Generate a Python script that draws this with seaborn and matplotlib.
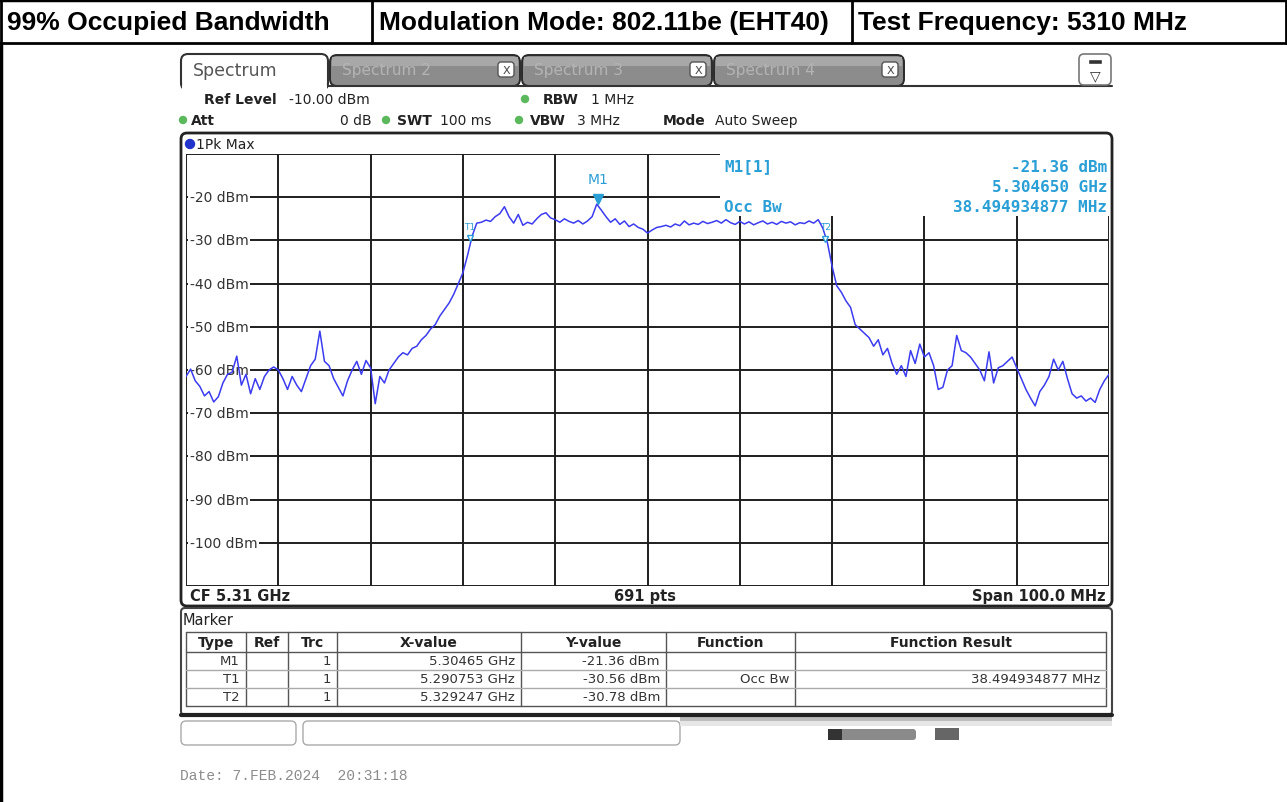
import matplotlib
matplotlib.use("Agg")
import matplotlib.pyplot as plt
import seaborn as sns
import numpy as np
import pandas as pd
from matplotlib.patches import FancyBboxPatch, Rectangle, Circle

# ---- chart content -------------------------------------------------------
header_cells = ["99% Occupied Bandwidth", "Modulation Mode: 802.11be (EHT40)",
                "Test Frequency: 5310 MHz"]

center_ghz = 5.31
span_mhz = 100.0
ref_level = -10.0
n_div = 10
sweep_pts = 691
level_ticks = [-20, -30, -40, -50, -60, -70, -80, -90, -100]

# trace, one value every 0.5 MHz from 5.26 to 5.36 GHz
trace_dbm = [
    -61.5, -59.8, -62.5, -63.8, -66.0, -65.0, -67.4, -66.2, -63.0, -61.0,
    -60.5, -56.8, -63.5, -61.0, -65.5, -62.0, -64.5, -61.5, -60.0, -59.3,
    -60.0, -62.0, -64.5, -61.5, -63.5, -65.0, -62.0, -59.0, -57.5, -51.0,
    -58.0, -59.0, -62.0, -64.0, -66.0, -62.5, -60.0, -58.0, -61.0, -57.8,
    -59.5, -67.8, -61.5, -63.0, -60.0, -58.5, -57.0, -56.0, -56.5, -55.0,
    -54.5, -53.0, -52.0, -50.5, -49.5, -47.5, -46.0, -44.5, -42.5, -40.0,
    -37.5, -33.5, -29.0, -26.0, -25.8, -25.3, -25.6, -24.5, -23.8, -22.2,
    -24.5, -26.0, -24.0, -26.5, -25.8, -26.2, -25.0, -24.0, -23.6, -24.8,
    -25.2, -25.8, -25.0, -25.6, -26.0, -25.4, -26.2, -25.5, -24.5, -21.6,
    -23.0, -24.5, -25.8, -25.0, -26.3, -25.5, -26.8, -26.2, -27.0, -27.4,
    -28.3, -27.6, -27.0, -26.8, -26.5, -26.9, -26.2, -26.6, -25.5, -26.4,
    -26.0, -26.3, -25.6, -26.1, -25.8, -25.4, -26.0, -25.2, -25.9, -26.3,
    -25.6, -26.2, -25.7, -26.4, -25.9, -25.5, -26.2, -25.8, -26.3, -25.6,
    -26.0, -25.7, -26.4, -25.9, -26.1, -25.5, -26.0, -25.2, -27.2, -30.6,
    -36.0, -40.5, -42.0, -44.0, -45.5, -49.5, -50.5, -51.5, -52.5, -54.5,
    -53.0, -56.5, -55.0, -58.5, -61.0, -59.0, -61.5, -55.5, -58.5, -54.0,
    -57.0, -56.0, -59.0, -64.5, -64.0, -60.0, -59.0, -52.0, -55.5, -56.0,
    -57.0, -58.5, -60.0, -62.5, -55.8, -63.0, -59.5, -59.0, -58.0, -57.0,
    -59.5, -62.0, -64.5, -66.5, -68.3, -65.0, -63.5, -61.5, -57.5, -60.0,
    -58.0, -62.0, -65.5, -66.5, -66.0, -67.2, -66.5, -67.5, -64.5, -62.5,
    -61.0,
]

marker_type = ["M1", "T1", "T2"]
marker_trc = ["1", "1", "1"]
marker_freq = [5.30465, 5.290753, 5.329247]
marker_level = [-21.36, -30.56, -30.78]
marker_xtxt = ["5.30465 GHz", "5.290753 GHz", "5.329247 GHz"]
marker_ytxt = ["-21.36 dBm", "-30.56 dBm", "-30.78 dBm"]
marker_func = ["", "Occ Bw", ""]
marker_result = ["", "38.494934877 MHz", ""]
table_cols = ["Type", "Ref", "Trc", "X-value", "Y-value", "Function", "Function Result"]

# ---- layout helpers (screen pixels) -------------------------------------
W, H = 1287, 803
TRACE = "#3b3bf0"
CYAN = "#2a9fd6"
GREEN = "#5cb85c"
INK = "#222222"

sns.set_theme(style="white")
plt.rcParams["font.family"] = ["DejaVu Sans"]

fig = plt.figure(figsize=(W / 100, H / 100), dpi=100)
fig.patch.set_facecolor("white")


def box(x0, y0, x1, y1):
    return [x0 / W, 1 - y1 / H, (x1 - x0) / W, (y1 - y0) / H]


bg = fig.add_axes([0, 0, 1, 1])
bg.set_xlim(0, W)
bg.set_ylim(H, 0)
bg.axis("off")

# header row
for x in [1, 372, 852, 1286]:
    bg.plot([x, x], [0, 44], color="black", lw=2)
bg.plot([0, W], [1, 1], color="black", lw=2.5)
bg.plot([0, W], [44, 44], color="black", lw=2)
bg.plot([1, 1], [44, H], color="black", lw=2.5)
for x, txt in zip([7, 379, 858], header_cells):
    bg.text(x, 23, txt, fontsize=19, fontweight="bold", family="Liberation Sans",
            ha="left", va="center", color="black")

# tabs
bg.add_patch(FancyBboxPatch((181, 55), 147, 36, boxstyle="round,pad=0,rounding_size=7",
                            facecolor="white", edgecolor="#333333", lw=1.5, zorder=3))
bg.add_patch(Rectangle((182, 86), 145, 8, facecolor="white", edgecolor="none", zorder=4))
bg.text(193, 71, "Spectrum", fontsize=12.5, color="#555555", va="center", zorder=5)
for i, x in enumerate([330, 522, 714]):
    bg.add_patch(FancyBboxPatch((x, 56), 190, 31, boxstyle="round,pad=0,rounding_size=7",
                                facecolor="#8c8c8c", edgecolor="#2a2a2a", lw=1.4, zorder=2))
    bg.add_patch(Rectangle((x + 2, 58), 186, 9, facecolor="#a8a8a8", edgecolor="none",
                           zorder=2.5))
    bg.text(x + 12, 71, f"Spectrum {i + 2}", fontsize=11, color="#b4b4b4", va="center",
            zorder=3)
    bg.add_patch(FancyBboxPatch((x + 168, 63), 16, 15, boxstyle="round,pad=0,rounding_size=3",
                                facecolor="white", edgecolor="#555555", lw=1, zorder=3))
    bg.text(x + 176, 71, "X", fontsize=8, color="#444444", ha="center", va="center", zorder=4)
bg.plot([328, 1112], [87, 87], color="#333333", lw=1.5, zorder=2)
bg.add_patch(FancyBboxPatch((1079, 55), 32, 31, boxstyle="round,pad=0,rounding_size=5",
                            facecolor="white", edgecolor="#777777", lw=1.2, zorder=2))
bg.add_patch(Rectangle((1088, 60), 14, 5, facecolor="#333333", zorder=3))
bg.text(1095, 76, "\u25bd", fontsize=10, color="#333333", ha="center", va="center", zorder=3)


# settings lines
def setting(x, y, label, value, bold_w):
    bg.text(x, y, label, fontsize=10, fontweight="bold", va="center", color=INK)
    bg.text(x + bold_w, y, value, fontsize=10, va="center", color=INK)


setting(204, 100, "Ref Level", "-10.00 dBm", 85)
setting(543, 100, "RBW", "1 MHz", 48)
bg.text(191, 121, "Att", fontsize=10, fontweight="bold", va="center", color=INK)
bg.text(372, 121, "0 dB", fontsize=10, ha="right", va="center", color=INK)
setting(397, 121, "SWT", "100 ms", 43)
setting(530, 121, "VBW", "3 MHz", 47)
setting(663, 121, "Mode", "Auto Sweep", 52)
for cx, cy in [(525, 100), (183, 121), (386, 121), (519, 121)]:
    bg.add_patch(Circle((cx, cy), 3.5, color=GREEN, zorder=3))

# diagram frame
bg.add_patch(FancyBboxPatch((181, 134), 931, 473, boxstyle="round,pad=0,rounding_size=6",
                            facecolor="white", edgecolor=INK, lw=2, zorder=1))
bg.add_patch(Circle((190, 145), 4.5, color="#2233cc", zorder=3))
bg.text(196, 145, "1Pk Max", fontsize=10, va="center", color=INK, zorder=3)
bg.text(190, 597, "CF 5.31 GHz", fontsize=10.5, fontweight="bold", va="center", color=INK)
bg.text(645, 597, f"{sweep_pts} pts", fontsize=10.5, fontweight="bold", ha="center",
        va="center", color=INK)
bg.text(1106, 597, f"Span {span_mhz:.1f} MHz", fontsize=10.5, fontweight="bold",
        ha="right", va="center", color=INK)

# marker table
bg.add_patch(FancyBboxPatch((181, 609), 931, 107, boxstyle="round,pad=0,rounding_size=4",
                            facecolor="white", edgecolor="#444444", lw=1.5, zorder=1))
bg.plot([181, 1112], [716, 716], color=INK, lw=3, zorder=2)
bg.text(183, 621, "Marker", fontsize=10.5, va="center", color=INK, zorder=3)
col_x = [186, 246, 288, 337, 521, 666, 795, 1106]
row_y = [633, 653, 671, 689, 707]
for x in col_x:
    bg.plot([x, x], [row_y[0], row_y[-1]], color="#555555", lw=1, zorder=2)
for i, y in enumerate(row_y):
    bg.plot([col_x[0], col_x[-1]], [y, y], color="#555555" if i in (0, 1, 4) else "#aaaaaa",
            lw=1, zorder=2)
for j, name in enumerate(table_cols):
    bg.text((col_x[j] + col_x[j + 1]) / 2, 643, name, fontsize=10, fontweight="bold",
            ha="center", va="center", color=INK, zorder=3)
for i in range(len(marker_type)):
    y = (row_y[i + 1] + row_y[i + 2]) / 2
    cells = [marker_type[i], "", marker_trc[i], marker_xtxt[i], marker_ytxt[i],
             marker_func[i], marker_result[i]]
    for j, txt in enumerate(cells):
        bg.text(col_x[j + 1] - 6, y, txt, fontsize=9.5, ha="right", va="center",
                color="#333333", zorder=3)

# bottom status bar
bg.add_patch(FancyBboxPatch((181, 722), 115, 24, boxstyle="round,pad=0,rounding_size=5",
                            facecolor="white", edgecolor="#aaaaaa", lw=1))
bg.add_patch(FancyBboxPatch((303, 722), 377, 24, boxstyle="round,pad=0,rounding_size=5",
                            facecolor="white", edgecolor="#aaaaaa", lw=1))
bg.add_patch(Rectangle((680, 717), 432, 5, facecolor="#bdbdbd", edgecolor="none"))
bg.add_patch(Rectangle((680, 722), 432, 5, facecolor="#e6e6e6", edgecolor="none"))
bg.add_patch(FancyBboxPatch((828, 730), 88, 11, boxstyle="round,pad=0,rounding_size=3",
                            facecolor="#8a8a8a", edgecolor="none"))
bg.add_patch(Rectangle((828, 730), 14, 11, facecolor="#333333", edgecolor="none"))
bg.add_patch(Rectangle((935, 729), 24, 12, facecolor="#666666", edgecolor="none"))
bg.text(180, 776, "Date: 7.FEB.2024  20:31:18", fontsize=10.5, family="Liberation Mono",
        va="center", color="#8c8c8c")

# ---- the trace -----------------------------------------------------------
f_start = center_ghz - span_mhz / 2000
f_stop = center_ghz + span_mhz / 2000
df = pd.DataFrame({"freq": np.linspace(f_start, f_stop, len(trace_dbm)), "level": trace_dbm})

ax = fig.add_axes(box(186, 155, 1109, 587))
ax.set_facecolor("none")
ax.set_xlim(f_start, f_stop)
y_bottom = ref_level - 10 * n_div
ax.set_ylim(y_bottom, ref_level)
ax.set_xticks(np.linspace(f_start, f_stop, n_div + 1))
ax.set_yticks(np.linspace(y_bottom, ref_level, n_div + 1))
ax.grid(True, color="#1e1e1e", lw=1.4)
ax.set_axisbelow(True)
ax.tick_params(length=0, labelbottom=False, labelleft=False)
for s in ax.spines.values():
    s.set_visible(False)

# readout area hides the grid at the upper right
ax.add_patch(Rectangle((0.579, 0.856), 0.421, 0.144, transform=ax.transAxes,
                       facecolor="white", edgecolor="none", zorder=1.5))
for v in level_ticks:
    ax.text(f_start + 0.0004, v, f"{v} dBm", fontsize=10, ha="left", va="center",
            color="#333333", zorder=2,
            bbox=dict(facecolor="white", edgecolor="none", pad=1.0))

sns.lineplot(data=df, x="freq", y="level", ax=ax, color=TRACE, lw=1.1, zorder=3)
ax.set_xlabel("")
ax.set_ylabel("")

ax.plot(marker_freq[0], marker_level[0] + 0.9, marker="v", ms=7, color=CYAN, zorder=4)
ax.text(marker_freq[0], -15.7, marker_type[0], fontsize=10, color=CYAN, ha="center",
        va="center", zorder=4)
for k in (1, 2):
    ax.plot(marker_freq[k], marker_level[k] + 1.2, marker="v", ms=5, mfc="white",
            mec=CYAN, zorder=4)
    ax.text(marker_freq[k], -26.8, marker_type[k], fontsize=6.5, color=CYAN,
            ha="center", va="center", zorder=4)

fg = fig.add_axes([0, 0, 1, 1])
fg.set_xlim(0, W)
fg.set_ylim(H, 0)
fg.axis("off")
fg.patch.set_alpha(0)
ro = dict(fontsize=11.5, fontweight="bold", family="DejaVu Sans Mono", color=CYAN,
          va="center")
fg.text(724, 167, "M1[1]", ha="left", **ro)
fg.text(724, 207, marker_func[1], ha="left", **ro)
fg.text(1107, 167, f"{marker_level[0]:.2f} dBm", ha="right", **ro)
fg.text(1107, 187, f"{marker_freq[0]:.6f} GHz", ha="right", **ro)
fg.text(1107, 207, marker_result[1], ha="right", **ro)

fig.savefig("out.png", dpi=100)
